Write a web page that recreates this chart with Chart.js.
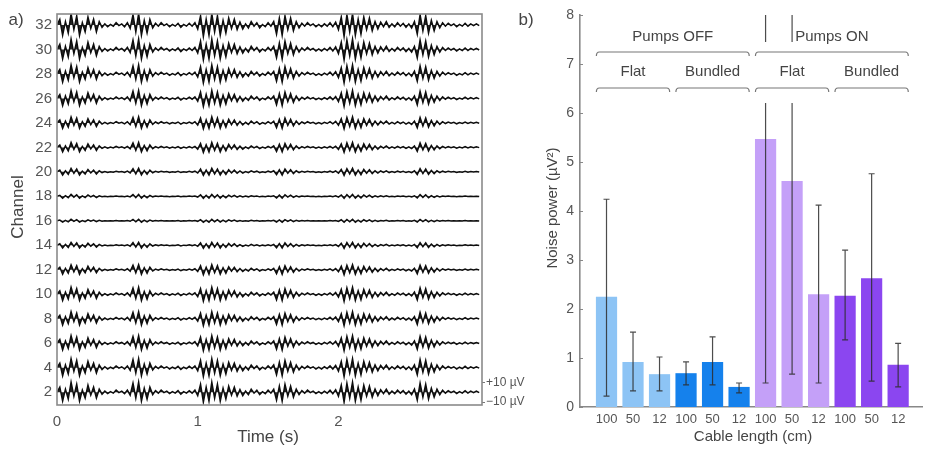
<!DOCTYPE html>
<html>
<head>
<meta charset="utf-8">
<script src="https://cdn.jsdelivr.net/npm/chart.js@4.4.0/dist/chart.umd.min.js"></script>
<style>
  body { margin: 0; background: #fff; }
  #wrap { position: relative; width: 930px; height: 450px; }
  canvas { position: absolute; top: 0; }
  #traces { left: 0; }
  #noise { left: 500px; }
</style>
</head>
<body>
<div id="wrap">
  <canvas id="traces" width="525" height="450"></canvas>
  <canvas id="noise" width="430" height="450"></canvas>
</div>
<script>
// ---- panel a: raw recordings ----
const channels = [2, 4, 6, 8, 10, 12, 14, 16, 18, 20, 22, 24, 26, 28, 30, 32];
// relative noise amplitude on each channel (channel 2 = 1)
const channelGain = [1.0, 0.9, 0.75, 0.7, 0.7, 0.5, 0.3, 0.15, 0.2, 0.35, 0.5, 0.6, 0.8, 0.9, 1.05, 1.15];
// common noise waveform in µV, one sample every 20 ms from 0 to 3 s
const traceShape = [
  0, 5, -9, 3, -7, 10, -4, 8, -9, 2, -6, 7, -3, 5, -6, 3,
  -2, 1, -1.5, 0.5, -1, 2, -0.5, 1, -1.5, 2, -3,
  9, -6, 10, -9, 4, -7, 5,
  -2.5, 1.5, -1, 2, -0.5, 1, -1.5, 0.5, -1, 1.5, -2, 0.5, -1, 1.5, -1, 2, -3.5,
  8, -10, 5, -9, 10, -6, 8, -9, 4, -7, 6, -3, 5, -4,
  2.5, -3.5, 1, -2.5, 3, -1, 2, -2.5, 0.5, -1.5, 2, -1, 3,
  -8, 6, -9, 8, -4, 6, -5, 3,
  -2.5, 1.5, -1, 2, -0.5, 1, -1.5, 0.5, -1.5, 1, -1, 2, -1.5, 2.5, -4,
  7, -10, 9, -6, 10, -9, 5, -8, 7, -4, 6, -5, 3, -3.5,
  2.5, -1.5, 3, -2, 1, -1.5, 2, -1, 1.5, -2, 1, -2.5, 3,
  -8, 9, -5, 8, -7, 4, -5, 3,
  -2.5, 2, -1, 1.5, -0.5, 1, -1.5, 0.5, -1, 1.5, -1, 1, -0.5, 1, -0.5
];
const sampleStep = 0.02;      // s
const timeTicks = [0, 1, 2];
const scaleBarUv = 10;        // ±10 µV marker next to channel 2
const uvPerChannel = 12.3;    // µV spanned by one channel step

// ---- panel b: noise power ----
const cableLengths = ['100', '50', '12', '100', '50', '12', '100', '50', '12', '100', '50', '12'];
const noisePower = [2.25, 0.92, 0.67, 0.69, 0.92, 0.41, 5.47, 4.61, 2.3, 2.27, 2.63, 0.86];
const errLow = [0.22, 0.33, 0.33, 0.45, 0.45, 0.29, 0.49, 0.67, 0.49, 1.37, 0.53, 0.41];
const errHigh = [4.24, 1.53, 1.02, 0.92, 1.43, 0.49, 8.5, 8.5, 4.12, 3.2, 4.76, 1.3];
const groupColors = ['#8dc4f5', '#1581ec', '#c4a0f8', '#8b46f0'];
const groupLabels = ['Flat', 'Bundled', 'Flat', 'Bundled'];
const pumpLabels = ['Pumps OFF', 'Pumps ON'];

const FONT = '"Liberation Sans", Arial, sans-serif';

// frame, axis titles and panel letter for the trace panel
const tracesDecor = {
  id: 'tracesDecor',
  afterDraw(chart) {
    const { ctx, chartArea: a } = chart;
    ctx.save();
    ctx.strokeStyle = '#8a8a8a';
    ctx.lineWidth = 1.6;
    ctx.strokeRect(a.left, a.top, a.right - a.left, a.bottom - a.top);

    ctx.fillStyle = '#444';
    ctx.textAlign = 'center';
    ctx.textBaseline = 'middle';
    ctx.font = '17px ' + FONT;
    ctx.fillText('Time (s)', 268, 437);
    ctx.fillText('a)', 16, 20);
    ctx.translate(18, 207);
    ctx.rotate(-Math.PI / 2);
    ctx.fillText('Channel', 0, 0);
    ctx.restore();
  }
};

// each trace is filled back to its own baseline so bursts read as dense noise
const traceDatasets = channels.map((ch, k) => ({
  data: traceShape.map((v, i) => ({ x: i * sampleStep, y: ch + v * channelGain[k] / uvPerChannel })),
  borderColor: '#0d0d0d',
  borderWidth: 1.5,
  backgroundColor: 'rgba(0,0,0,0.85)',
  fill: { target: { value: ch } },
  pointRadius: 0,
  tension: 0
}));

new Chart(document.getElementById('traces'), {
  type: 'line',
  data: { datasets: traceDatasets },
  options: {
    responsive: false,
    animation: false,
    layout: { padding: { top: 13, left: 0, right: 0, bottom: 0 } },
    plugins: { legend: { display: false }, tooltip: { enabled: false }, filler: { propagate: false } },
    scales: {
      x: {
        type: 'linear',
        min: 0,
        max: 3.02,
        afterBuildTicks: s => { s.ticks = timeTicks.map(v => ({ value: v })); },
        afterFit: s => { s.height = 45; },
        grid: { display: false, drawTicks: false },
        border: { display: false },
        ticks: { padding: 8, color: '#555', font: { family: FONT, size: 15 } }
      },
      y: {
        type: 'linear',
        min: 0.95,
        max: 32.9,
        afterBuildTicks: s => { s.ticks = channels.map(v => ({ value: v })); },
        afterFit: s => { s.width = 57; },
        grid: { display: false, drawTicks: false },
        border: { display: false },
        ticks: { padding: 5, color: '#555', font: { family: FONT, size: 15 } }
      },
      yr: {
        type: 'linear',
        position: 'right',
        min: 0.95,
        max: 32.9,
        afterBuildTicks: s => {
          s.ticks = [
            { value: channels[0] + scaleBarUv / uvPerChannel },
            { value: channels[0] - scaleBarUv / uvPerChannel }
          ];
        },
        afterFit: s => { s.width = 43; },
        grid: { display: true, drawOnChartArea: false, drawTicks: true, tickLength: 3, color: '#777' },
        border: { display: false },
        ticks: {
          padding: 1,
          color: '#555',
          font: { family: FONT, size: 12 },
          callback: v => (v > channels[0] ? '+' : '\u2212') + scaleBarUv + ' \u00b5V'
        }
      }
    }
  },
  plugins: [tracesDecor]
});

// ---- bar chart helpers ----
const errorBars = {
  id: 'errorBars',
  afterDatasetsDraw(chart) {
    const { ctx, chartArea: a, scales: { x, y } } = chart;
    ctx.save();
    ctx.beginPath();
    ctx.rect(a.left, a.top, a.right - a.left, a.bottom - a.top);
    ctx.clip();
    ctx.strokeStyle = 'rgba(45,45,45,0.85)';
    ctx.lineWidth = 1.2;
    noisePower.forEach((_, i) => {
      const px = x.getPixelForValue(i);
      const lo = y.getPixelForValue(errLow[i]);
      const hi = y.getPixelForValue(errHigh[i]);
      ctx.beginPath();
      ctx.moveTo(px, lo); ctx.lineTo(px, hi);
      ctx.moveTo(px - 3, lo); ctx.lineTo(px + 3, lo);
      ctx.moveTo(px - 3, hi); ctx.lineTo(px + 3, hi);
      ctx.stroke();
    });
    ctx.restore();
  }
};

function bracket(ctx, x0, x1, yy) {
  ctx.beginPath();
  ctx.moveTo(x0, yy + 4);
  ctx.quadraticCurveTo(x0, yy, x0 + 3, yy);
  ctx.lineTo(x1 - 3, yy);
  ctx.quadraticCurveTo(x1, yy, x1, yy + 4);
  ctx.stroke();
}

const noiseDecor = {
  id: 'noiseDecor',
  afterDraw(chart) {
    const { ctx, chartArea: a, scales: { x, y } } = chart;
    ctx.save();

    // inward tick marks on the y axis
    ctx.strokeStyle = '#888';
    ctx.lineWidth = 1;
    y.ticks.forEach(t => {
      const py = Math.round(y.getPixelForValue(t.value)) + 0.5;
      ctx.beginPath(); ctx.moveTo(a.left, py); ctx.lineTo(a.left + 3, py); ctx.stroke();
    });

    // white band behind the group brackets
    ctx.fillStyle = '#fff';
    ctx.fillRect(a.left + 4, 42, a.right - a.left - 6, 61);

    const half = 0.42;
    const edge = (i0, i1) => [x.getPixelForValue(i0 - half), x.getPixelForValue(i1 + half)];
    ctx.strokeStyle = '#777';
    ctx.lineWidth = 1.2;
    ctx.fillStyle = '#444';
    ctx.textAlign = 'center';
    ctx.textBaseline = 'middle';
    ctx.font = '15px ' + FONT;

    pumpLabels.forEach((lbl, p) => {
      const [x0, x1] = edge(p * 6, p * 6 + 5);
      bracket(ctx, x0 + 1, x1 - 1, 52);
      ctx.fillText(lbl, (x0 + x1) / 2, 37);
    });
    groupLabels.forEach((lbl, g) => {
      const [x0, x1] = edge(g * 3, g * 3 + 2);
      bracket(ctx, x0 + 1, x1 - 1, 88);
      ctx.fillText(lbl, (x0 + x1) / 2, 72);
    });

    // axis titles and panel letter
    ctx.fillText('Cable length (cm)', 253, 437);
    ctx.font = '17px ' + FONT;
    ctx.fillText('b)', 26, 20);
    ctx.font = '15px ' + FONT;
    ctx.translate(53, 208);
    ctx.rotate(-Math.PI / 2);
    ctx.fillText('Noise power (\u00b5V\u00b2)', 0, 0);
    ctx.restore();
  }
};

new Chart(document.getElementById('noise'), {
  type: 'bar',
  data: {
    datasets: [{
      data: noisePower.map((v, i) => ({ x: i, y: v })),
      backgroundColor: noisePower.map((_, i) => groupColors[Math.floor(i / 3)]),
      borderWidth: 0,
      barPercentage: 0.8,
      categoryPercentage: 1
    }]
  },
  options: {
    responsive: false,
    animation: false,
    layout: { padding: { top: 15, left: 0, right: 8, bottom: 0 } },
    plugins: { legend: { display: false }, tooltip: { enabled: false } },
    scales: {
      x: {
        type: 'linear',
        offset: false,
        min: -1,
        max: 11.9,
        afterBuildTicks: s => { s.ticks = cableLengths.map((_, i) => ({ value: i })); },
        afterFit: s => { s.height = 43; },
        grid: { display: false, drawTicks: false },
        border: { display: true, color: '#888', width: 1.6 },
        ticks: {
          padding: 5,
          color: '#555',
          font: { family: FONT, size: 13 },
          maxRotation: 0,
          callback: v => cableLengths[Math.round(v)]
        }
      },
      y: {
        min: 0,
        max: 8,
        afterFit: s => { s.width = 80; },
        grid: { display: false, drawTicks: false },
        border: { display: true, color: '#888', width: 1.6 },
        ticks: { stepSize: 1, padding: 6, color: '#555', font: { family: FONT, size: 14 } }
      }
    }
  },
  plugins: [errorBars, noiseDecor]
});
</script>
</body>
</html>
